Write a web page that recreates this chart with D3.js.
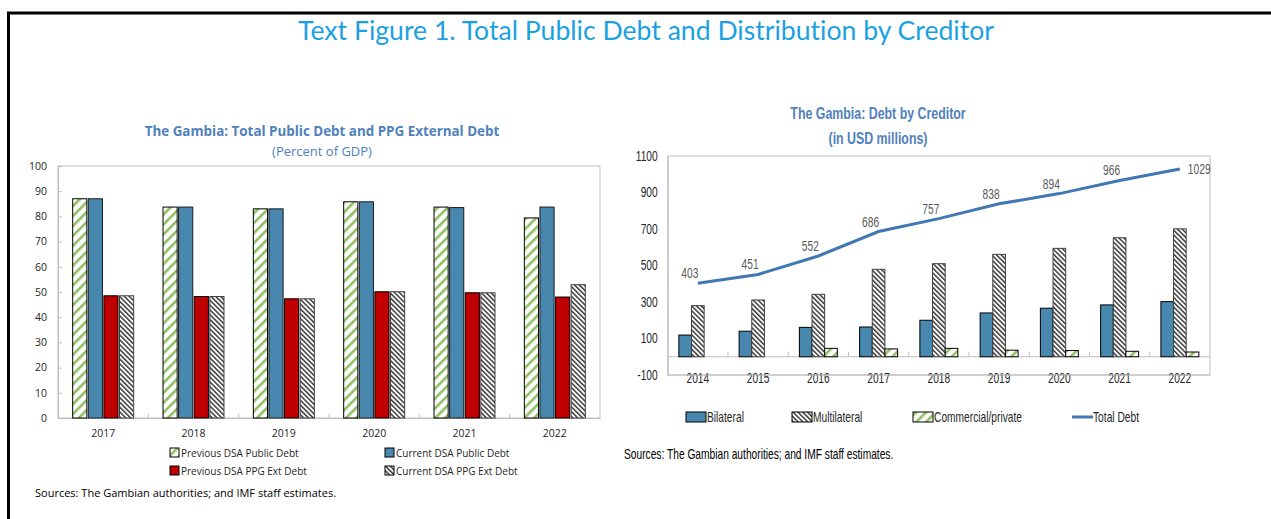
<!DOCTYPE html>
<html><head><meta charset="utf-8">
<script src="https://cdn.jsdelivr.net/npm/d3@7"></script>
<style>
body{margin:0;background:#fff;}
svg{display:block;}
.lf{font-family:"Open Sans",sans-serif;}
.rf{font-family:"Liberation Sans",Arial,sans-serif;}
</style></head><body>
<svg id="c" width="1271" height="519"></svg>
<script>
// ---------- data ----------
const leftYears = ["2017","2018","2019","2020","2021","2022"];
const leftSeries = ["Previous DSA Public Debt","Current DSA Public Debt","Previous DSA PPG Ext Debt","Current DSA PPG Ext Debt"];
const prevPublic = [87.0, 83.7, 83.0, 85.8, 83.7, 79.4];
const currPublic = [87.0, 83.7, 83.0, 85.8, 83.5, 83.7];
const prevPPG    = [48.5, 48.2, 47.3, 50.1, 49.7, 48.0];
const currPPG    = [48.5, 48.2, 47.3, 50.1, 49.7, 52.9];
const leftTicks  = [0,10,20,30,40,50,60,70,80,90,100];

const rightYears = ["2014","2015","2016","2017","2018","2019","2020","2021","2022"];
const rightSeries = ["Bilateral","Multilateral","Commercial/private"];
const bilateral   = [119, 140, 161, 163, 200, 240, 266, 284, 302];
const multilateral= [280, 311, 342, 479, 510, 561, 594, 652, 701];
const commercial  = [0, 0, 46, 43, 46, 36, 34, 30, 26];
const totalDebt   = [403, 451, 552, 686, 757, 838, 894, 966, 1029];
const rightTicks  = [-100,100,300,500,700,900,1100];

// ---------- setup ----------
const svg = d3.select("#c");
const defs = svg.append("defs");
function stripes(id, angle, period, width, color){
  const p = defs.append("pattern").attr("id",id).attr("patternUnits","userSpaceOnUse")
    .attr("width",period).attr("height",period).attr("patternTransform",`rotate(${angle})`);
  p.append("rect").attr("width",period).attr("height",period).attr("fill","#fff");
  p.append("rect").attr("width",width).attr("height",period).attr("fill",color);
}
stripes("green", 45, 7, 2.6, "#8fbf62");
stripes("dark", -45, 3.4, 1.5, "#3a3a3a");

const BLUE = "#4887ae", RED = "#c00000", TITLE = "#4f81bd", GRID = "#bfbfbf";
const SX = 0.73; // horizontal squeeze to mimic a narrow font in the right panel
const RS = 14;   // right panel font size

// narrow text helper
function nt(g, x, y, txt, size, opts={}){
  const sx = opts.sx || SX;
  const t = g.append("text").attr("transform",`translate(${x},${y}) scale(${sx},1)`)
    .attr("font-size",size).attr("fill",opts.fill||"#262626")
    .attr("text-anchor",opts.anchor||"start").text(txt);
  if(opts.bold) t.attr("font-weight","bold");
  return t;
}

// frame
svg.append("line").attr("x1",7).attr("x2",1271).attr("y1",13).attr("y2",13).attr("stroke","#000").attr("stroke-width",3);
svg.append("line").attr("x1",8.5).attr("x2",8.5).attr("y1",12).attr("y2",519).attr("stroke","#000").attr("stroke-width",3);

svg.append("text").attr("x",646).attr("y",40).attr("text-anchor","middle")
  .attr("font-family","Lato, sans-serif").attr("font-size",26.6).attr("fill","#1ba1e2")
  .style("font-variant-ligatures","none").style("font-feature-settings","'liga' 0")
  .text("Text Figure 1. Total Public Debt and Distribution by Creditor");

// ---------- left chart ----------
const L = {x0:58, x1:600, y0:166, y1:418};
const ly = d3.scaleLinear().domain([0,100]).range([L.y1, L.y0]);
const lx = d3.scaleBand().domain(leftYears).range([L.x0, L.x1]);
const bw = lx.bandwidth();
const lxi = d3.scaleBand().domain(leftSeries).range([bw*0.1625, bw*0.8375]).paddingInner(0.094);
const gl = svg.append("g").attr("class","lf");

gl.append("text").attr("x",322).attr("y",136).attr("text-anchor","middle").attr("font-weight","bold")
  .attr("font-size",13.4).attr("fill",TITLE).text("The Gambia: Total Public Debt and PPG External Debt");
gl.append("text").attr("x",322).attr("y",156).attr("text-anchor","middle")
  .attr("font-size",13).attr("fill",TITLE).text("(Percent of GDP)");

gl.append("rect").attr("x",L.x0).attr("y",L.y0).attr("width",L.x1-L.x0).attr("height",L.y1-L.y0)
  .attr("fill","none").attr("stroke",GRID);

const lAxis = gl.append("g").attr("transform",`translate(${L.x0},0)`)
  .call(d3.axisLeft(ly).tickValues(leftTicks).tickSize(-4).tickPadding(11).tickFormat(d=>String(d)));
lAxis.select(".domain").attr("stroke",GRID);
lAxis.selectAll(".tick line").attr("stroke",GRID);
lAxis.selectAll("text").attr("font-size",10.5).attr("fill","#262626").attr("font-family","Open Sans, sans-serif");

const lxAxis = gl.append("g").attr("transform",`translate(0,${L.y1})`)
  .call(d3.axisBottom(lx).tickSize(0).tickPadding(12));
lxAxis.select(".domain").attr("stroke",GRID);
lxAxis.selectAll("text").attr("font-size",10.5).attr("fill","#262626").attr("font-family","Open Sans, sans-serif");
gl.selectAll(".bnd").data(leftYears.slice(1)).join("line")
  .attr("x1",d=>lx(d)).attr("x2",d=>lx(d)).attr("y1",L.y1-4).attr("y2",L.y1).attr("stroke",GRID);

const leftData = [prevPublic, currPublic, prevPPG, currPPG];
const leftFill = ["url(#green)", BLUE, RED, "url(#dark)"];
const leftStroke = ["#000","#1a1a1a","#000","#404040"];
leftSeries.forEach((s,si)=>{
  gl.append("g").selectAll("rect").data(leftYears).join("rect")
    .attr("x",(d)=>lx(d)+lxi(s)).attr("width",lxi.bandwidth())
    .attr("y",(d,i)=>ly(leftData[si][i])).attr("height",(d,i)=>ly(0)-ly(leftData[si][i]))
    .attr("fill",leftFill[si]).attr("stroke",leftStroke[si]).attr("stroke-width",1);
});

// left legend
const leftLegPos = [[170,453],[385,453],[170,471],[385,471]];
leftSeries.forEach((s,i)=>{
  const [x,y] = leftLegPos[i];
  gl.append("rect").attr("x",x).attr("y",y-5).attr("width",9).attr("height",9)
    .attr("fill",leftFill[i]).attr("stroke","#000").attr("stroke-width",1);
  gl.append("text").attr("x",x+11).attr("y",y+4).attr("font-size",10).attr("fill","#262626").text(s);
});
gl.append("text").attr("x",35).attr("y",497).attr("font-size",11).attr("fill","#000")
  .text("Sources: The Gambian authorities; and IMF staff estimates.");

// ---------- right chart ----------
const R = {x0:667.7, x1:1210, y0:156, y1:375};
const ry = d3.scaleLinear().domain([-100,1100]).range([R.y1, R.y0]);
const rx = d3.scaleBand().domain(rightYears).range([R.x0, R.x1]);
const rbw = rx.bandwidth();
const rxi = d3.scaleBand().domain(rightSeries).range([rbw*0.185, rbw*0.815]);
const gr = svg.append("g").attr("class","rf");

nt(gr, 878, 119, "The Gambia: Debt by Creditor", 16.5, {anchor:"middle", bold:true, fill:TITLE, sx:0.75});
nt(gr, 878, 144, "(in USD millions)", 16.5, {anchor:"middle", bold:true, fill:TITLE, sx:0.75});

gr.append("rect").attr("x",R.x0).attr("y",R.y0).attr("width",R.x1-R.x0).attr("height",R.y1-R.y0)
  .attr("fill","none").attr("stroke",GRID);

const rAxis = gr.append("g").attr("transform",`translate(${R.x0},0)`)
  .call(d3.axisLeft(ry).tickValues(rightTicks).tickSize(0).tickPadding(10).tickFormat(d=>String(d)));
rAxis.select(".domain").attr("stroke",GRID);
rAxis.selectAll("text").attr("font-size",RS).attr("fill","#262626")
  .attr("x",-10/SX).attr("transform",`scale(${SX},1)`);

// zero line
gr.append("line").attr("x1",R.x0).attr("x2",R.x1).attr("y1",ry(0)).attr("y2",ry(0)).attr("stroke",GRID).attr("stroke-width",1.2);
gr.selectAll(".rb").data(rightYears.slice(1)).join("line")
  .attr("x1",d=>rx(d)).attr("x2",d=>rx(d)).attr("y1",ry(0)-5).attr("y2",ry(0)).attr("stroke",GRID);

// x labels at bottom
rightYears.forEach(d=>nt(gr, rx(d)+rbw/2, R.y1+8, d, RS, {anchor:"middle"}));
// frame bottom line drawn over labels (as in reference)
gr.append("line").attr("x1",R.x0).attr("x2",R.x1).attr("y1",R.y1).attr("y2",R.y1).attr("stroke",GRID);

const rightData = [bilateral, multilateral, commercial];
const rightFill = [BLUE, "url(#dark)", "url(#green)"];
const rightStroke = ["#000","#404040","#000"];
rightSeries.forEach((s,si)=>{
  gr.append("g").selectAll("rect").data(rightYears.filter((d,i)=>rightData[si][i]>0)).join("rect")
    .attr("x",d=>rx(d)+rxi(s)).attr("width",rxi.bandwidth())
    .attr("y",d=>ry(rightData[si][rightYears.indexOf(d)]))
    .attr("height",d=>ry(0)-ry(rightData[si][rightYears.indexOf(d)]))
    .attr("fill",rightFill[si]).attr("stroke",rightStroke[si]).attr("stroke-width",1);
});

const LINEC = "#4178b4";
const line = d3.line().x((d,i)=>rx(rightYears[i])+rbw/2).y(d=>ry(d));
gr.append("path").datum(totalDebt).attr("d",line).attr("fill","none").attr("stroke",LINEC).attr("stroke-width",3);
totalDebt.forEach((d,i)=>{
  const cx = rx(rightYears[i])+rbw/2, last = i===totalDebt.length-1;
  nt(gr, last ? cx+8 : cx-8, last ? ry(d)+5 : ry(d)-5, String(d), RS,
     {anchor: last ? "start" : "middle", fill:"#595959"});
});

// right legend
const legY = 417;
const rleg = [
  {x:686, t:"Bilateral", f:BLUE, type:"box"},
  {x:792, t:"Multilateral", f:"url(#dark)", type:"box"},
  {x:913, t:"Commercial/private", f:"url(#green)", type:"box"},
  {x:1072, t:"Total Debt", f:LINEC, type:"line"}
];
rleg.forEach(d=>{
  if(d.type==="box"){
    gr.append("rect").attr("x",d.x).attr("y",legY-5).attr("width",20).attr("height",10)
      .attr("fill",d.f).attr("stroke","#000").attr("stroke-width",1);
  } else {
    gr.append("line").attr("x1",d.x).attr("x2",d.x+21).attr("y1",legY).attr("y2",legY)
      .attr("stroke",d.f).attr("stroke-width",3);
  }
  nt(gr, d.x+21, legY+5, d.t, RS);
});
nt(gr, 624, 459, "Sources: The Gambian authorities; and IMF staff estimates.", RS, {fill:"#000"});
</script>
</body></html>
